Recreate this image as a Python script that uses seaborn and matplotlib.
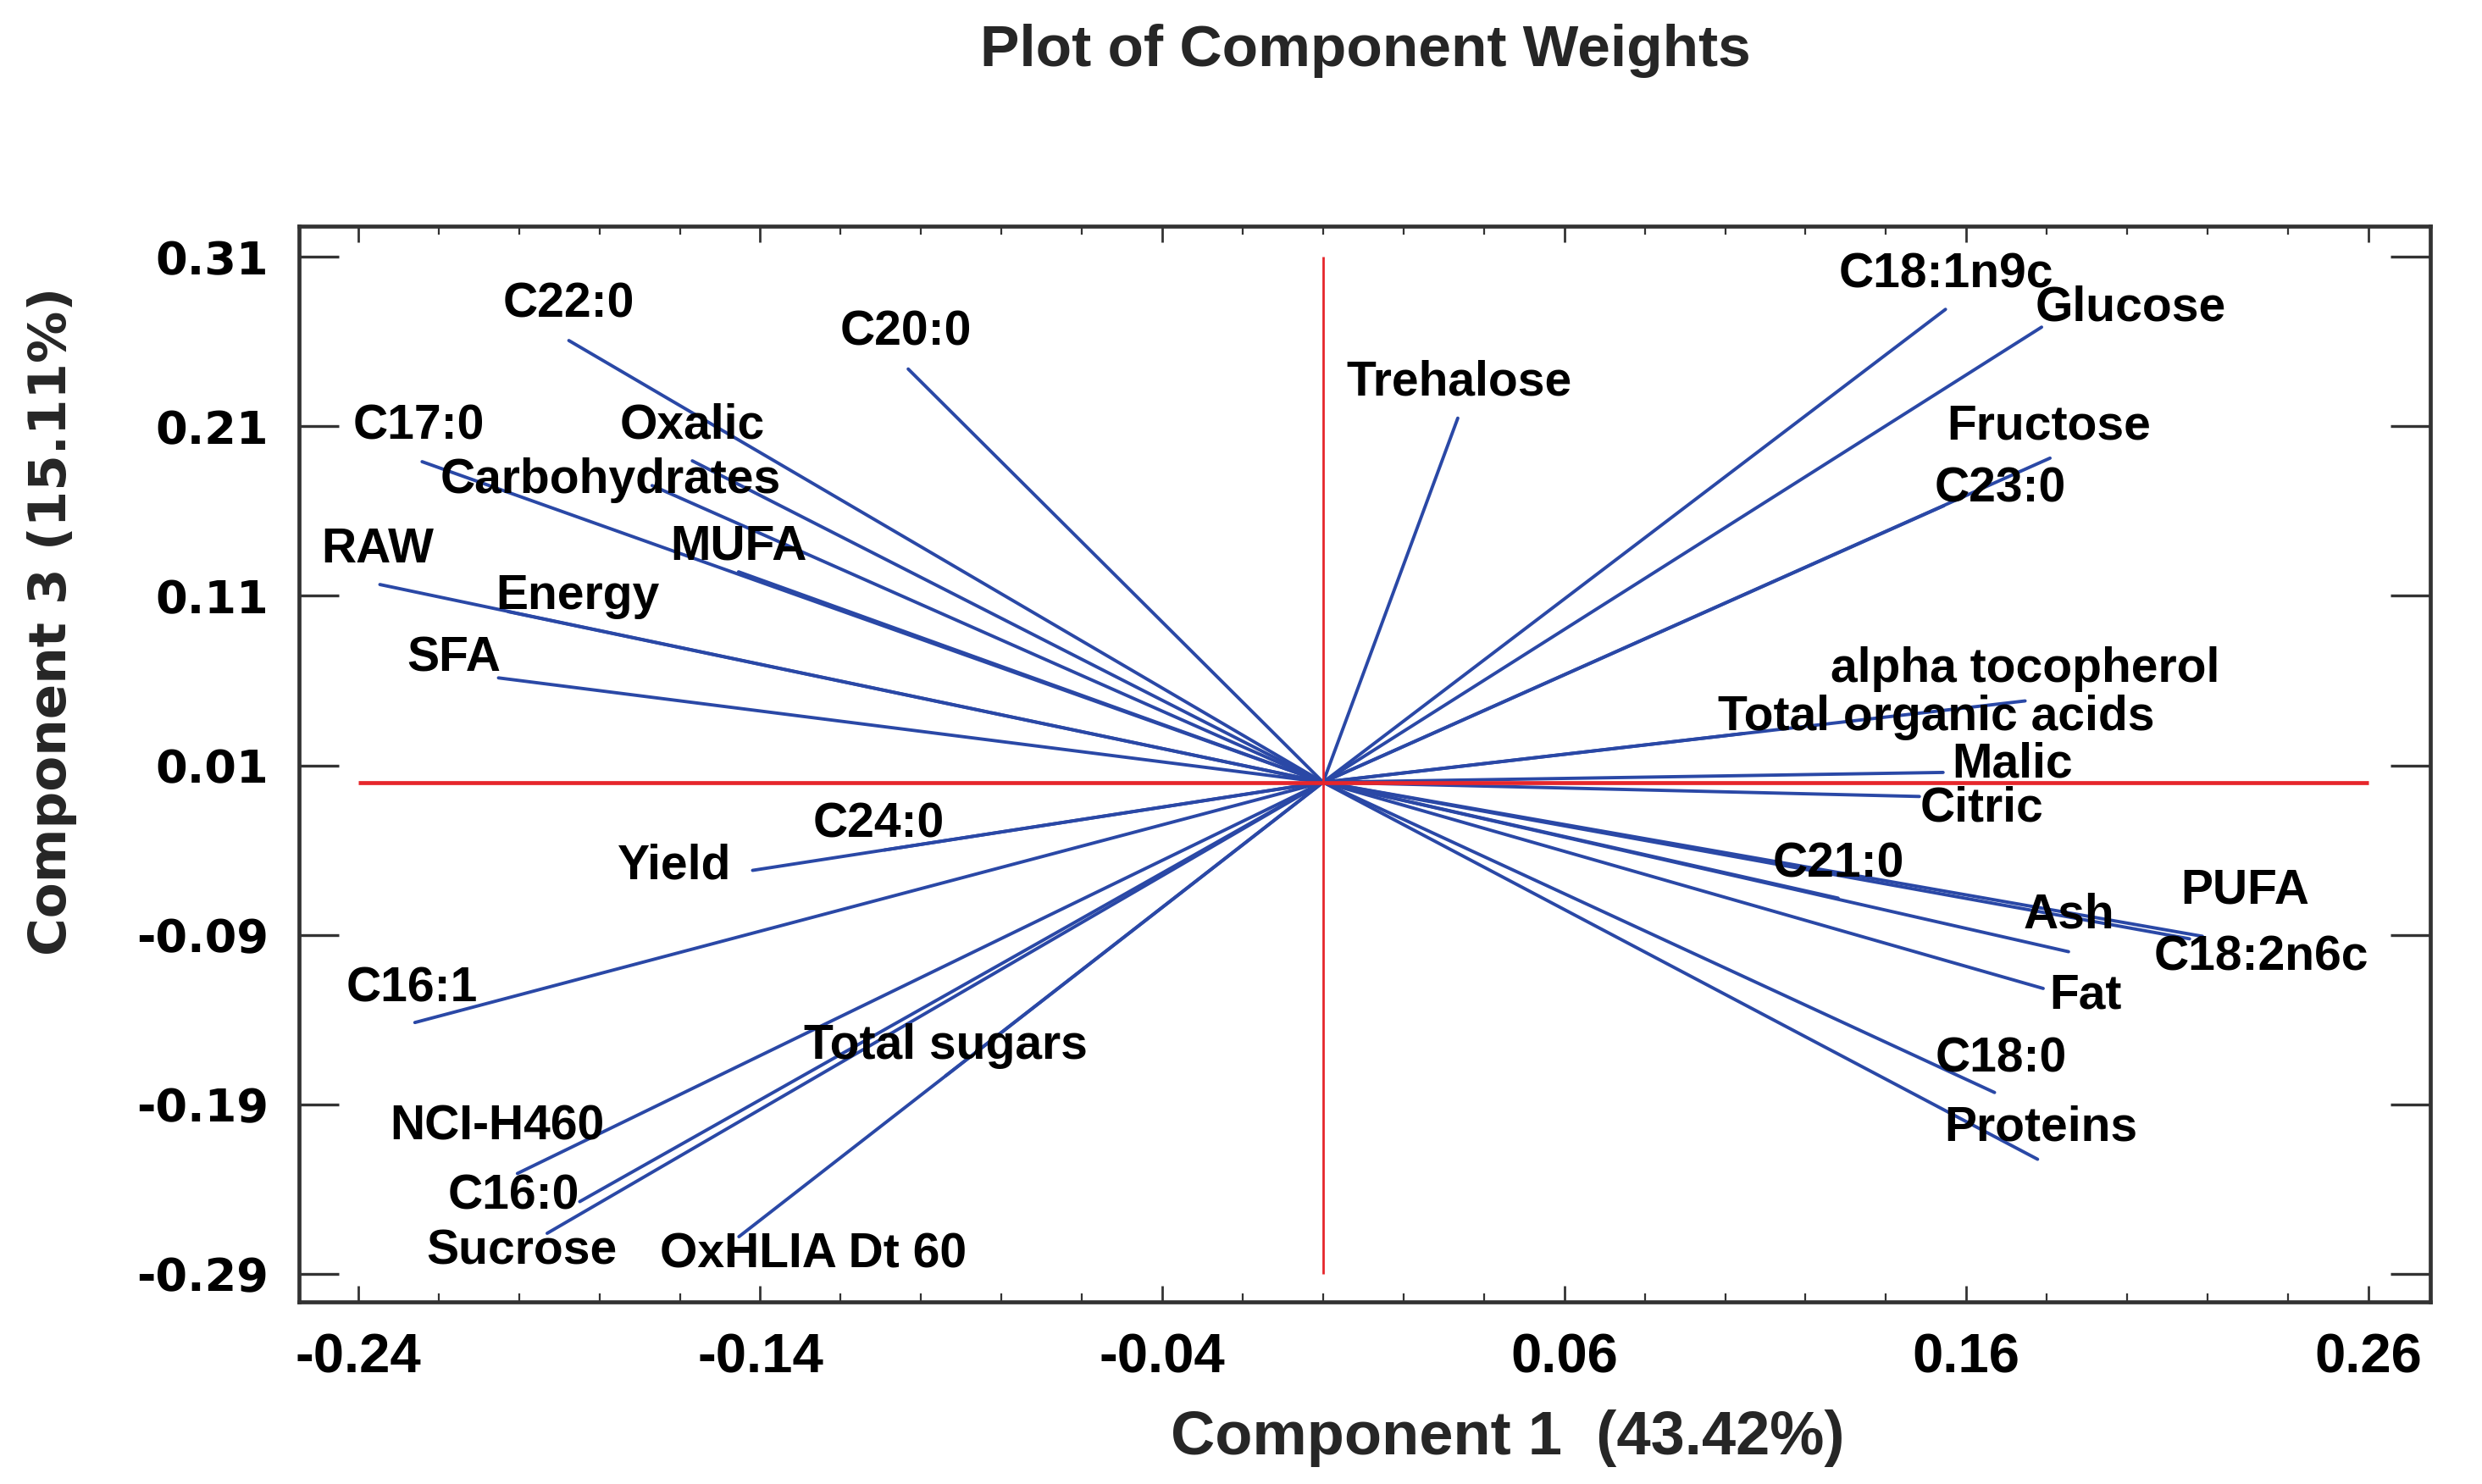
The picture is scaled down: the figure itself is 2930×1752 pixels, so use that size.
# %%
import matplotlib

matplotlib.use("Agg")
import matplotlib.pyplot as plt
import numpy as np
import pandas as pd
import seaborn as sns

# %%
variables = [
    "C22:0", "C20:0", "C17:0", "Oxalic", "Carbohydrates", "MUFA", "RAW", "Energy", "SFA",
    "Trehalose", "C18:1n9c", "Glucose", "Fructose", "C23:0", "alpha tocopherol",
    "Total organic acids", "Malic",
    "Citric", "C21:0", "Ash", "PUFA", "C18:2n6c", "Fat", "C18:0", "Proteins",
    "Yield", "C24:0", "C16:1", "Total sugars", "NCI-H460", "C16:0", "Sucrose", "OxHLIA Dt 60",
]
comp1 = [
    -0.1876, -0.1032, -0.2241, -0.1569, -0.1669, -0.1454, -0.2346, -0.2027, -0.2051,
    0.0335, 0.1548, 0.1787, 0.1808, 0.1544, 0.1746,
    0.1047, 0.1542,
    0.1483, 0.1281, 0.1854, 0.2187, 0.2155, 0.1791, 0.1670, 0.1777,
    -0.1419, -0.1091, -0.2259, -0.0939, -0.2004, -0.1849, -0.1930, -0.1453,
]
comp3 = [
    0.2607, 0.2439, 0.1892, 0.1897, 0.1751, 0.1242, 0.1167, 0.1007, 0.0616,
    0.2149, 0.2791, 0.2686, 0.1913, 0.1632, 0.0480,
    0.0288, 0.0058,
    -0.0084, -0.0684, -0.1000, -0.0909, -0.0924, -0.1217, -0.1831, -0.2225,
    -0.0520, -0.0400, -0.1418, -0.1733, -0.2309, -0.2475, -0.2662, -0.2682,
]

xticks = [-0.24, -0.14, -0.04, 0.06, 0.16, 0.26]
xtick_labels = ["-0.24", "-0.14", "-0.04", "0.06", "0.16", "0.26"]
yticks = [-0.29, -0.19, -0.09, 0.01, 0.11, 0.21, 0.31]
ytick_labels = ["-0.29", "-0.19", "-0.09", "0.01", "0.11", "0.21", "0.31"]

# label placement, offset in pixels from the end of each vector
label_offsets = {
    "C22:0": (0, 43), "C20:0": (-3, 43), "C17:0": (-4, 42), "Oxalic": (0, 42),
    "Carbohydrates": (-49, 6), "MUFA": (0, 30), "RAW": (-3, 41), "Energy": (82, 18),
    "SFA": (-53, 23), "Trehalose": (2, 42), "C18:1n9c": (1, 41), "Glucose": (105, 23),
    "Fructose": (-1, 37), "C23:0": (66, 20), "alpha tocopherol": (0, 38),
    "Total organic acids": (227, 19), "Malic": (82, 9), "Citric": (74, -14),
    "C21:0": (0, 40), "Ash": (0, 43), "PUFA": (50, 54), "C18:2n6c": (85, -22),
    "Fat": (50, -9), "C18:0": (8, 39), "Proteins": (4, 37), "Yield": (-92, 5),
    "C24:0": (-7, 30), "C16:1": (-3, 40), "Total sugars": (0, 35),
    "NCI-H460": (-24, 55), "C16:0": (-78, 6), "Sucrose": (-30, -21),
    "OxHLIA Dt 60": (88, -21),
}

BLUE = "#2a48a6"
RED = "#e6262b"
FRAME = "#333333"

# %%
rows = []
for name, x, y in zip(variables, comp1, comp3):
    rows.append([name, 0.0, 0.0])
    rows.append([name, x, y])
df = pd.DataFrame(rows, columns=["variable", "comp1", "comp3"])

sns.set_style("white")
plt.rcParams["font.family"] = ["Liberation Sans", "DejaVu Sans"]

fig = plt.figure(figsize=(29.30, 17.52), dpi=100)
ax = fig.add_axes([0.1205, 0.1227, 0.8587, 0.7249])

sns.lineplot(
    data=df, x="comp1", y="comp3", units="variable", estimator=None, sort=False,
    color=BLUE, linewidth=2.8, legend=False, ax=ax, zorder=2,
)

# reference cross through the origin, spanning the tick range
ax.hlines(0, xticks[0], xticks[-1], color=RED, linewidth=3.4, zorder=3)
ax.vlines(0, yticks[0], yticks[-1], color=RED, linewidth=2.0, zorder=3)

for name, x, y in zip(variables, comp1, comp3):
    dx, dy = label_offsets[name]
    ax.annotate(
        name, (x, y), xytext=(dx, dy), textcoords="offset pixels",
        ha="center", va="center", fontsize=41, fontweight="bold",
        color="black", zorder=4,
    )

ax.set_xlim(-0.2547, 0.2754)
ax.set_ylim(-0.3067, 0.3282)
ax.set_xticks(xticks)
ax.set_xticklabels(xtick_labels, fontsize=47, fontweight="bold")
ax.set_xticks(np.arange(-0.24, 0.2601, 0.02), minor=True)
ax.set_yticks(yticks)
ax.set_yticklabels(ytick_labels, fontsize=39, fontweight="bold", family="DejaVu Sans")
ax.set_xlabel("")
ax.set_ylabel("")

ax.tick_params(axis="x", which="major", direction="in", length=14, width=2,
               top=True, bottom=True, pad=26, colors=FRAME, labelcolor="black")
ax.tick_params(axis="x", which="minor", direction="in", length=7, width=1.6,
               top=True, bottom=True, colors=FRAME)
ax.tick_params(axis="y", which="major", direction="in", length=34, width=2.4,
               left=True, right=True, pad=26, colors=FRAME, labelcolor="black")

for side in ["left", "right", "top", "bottom"]:
    ax.spines[side].set_visible(True)
    ax.spines[side].set_color(FRAME)
    ax.spines[side].set_linewidth(3.4)

fig.text(0.550, 0.966, "Plot of Component Weights", ha="center", va="center",
         fontsize=50, fontweight="bold")
fig.text(0.6075, 0.031, "Component 1  (43.42%)", ha="center", va="center",
         fontsize=52, fontweight="bold")
fig.text(0.021, 0.5816, "Component 3 (15.11%)", ha="center", va="center",
         rotation=90, fontsize=44, fontweight="bold", family="DejaVu Sans")

plt.savefig("out.png", dpi=100)
